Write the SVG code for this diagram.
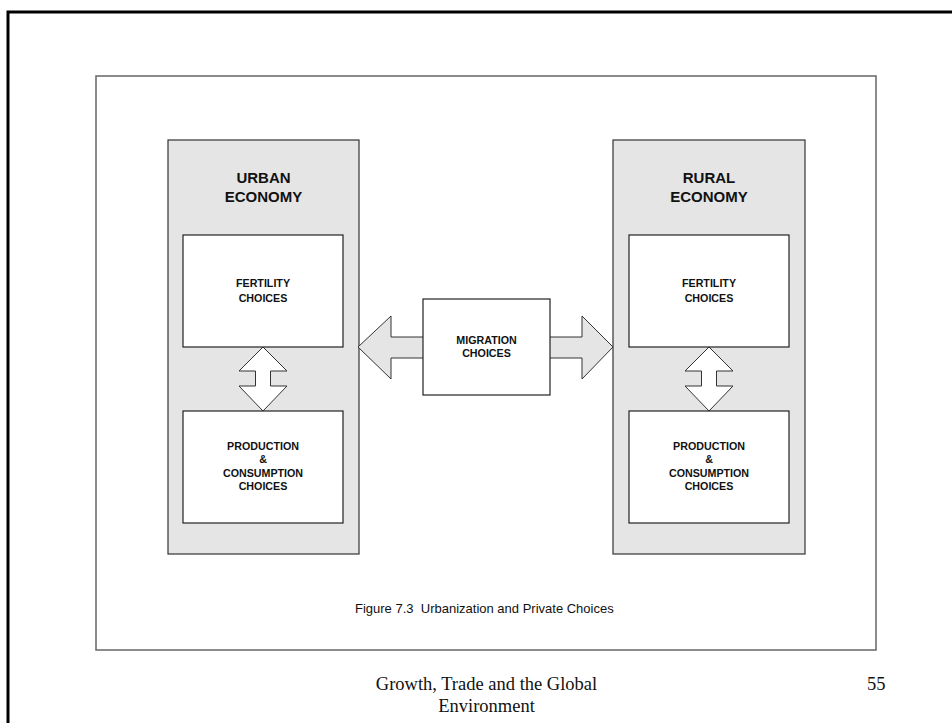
<svg xmlns="http://www.w3.org/2000/svg" width="952" height="723" viewBox="0 0 952 723">
<style>
.econ{fill:#e5e5e5;stroke:#333;stroke-width:1.2}
.box{fill:#fff;stroke:#222;stroke-width:1.2}
.h{font-family:"Liberation Sans",Arial,sans-serif;font-weight:bold;font-size:15px;text-anchor:middle;fill:#111}
.t{font-family:"Liberation Sans",Arial,sans-serif;font-weight:bold;font-size:10.7px;text-anchor:middle;fill:#111}
.cap{font-family:"Liberation Sans",Arial,sans-serif;font-size:13px;fill:#111;white-space:pre}
.ft{font-family:"Liberation Serif","Times New Roman",serif;font-size:18.5px;fill:#111}
.arr{stroke:#333;stroke-width:1}
</style>
<rect x="8" y="12" width="960" height="730" fill="none" stroke="#000" stroke-width="3"/>
<rect x="96" y="76" width="780" height="574" fill="#fff" stroke="#666" stroke-width="1.5"/>
<g id="urban">
<rect class="econ" x="168" y="140" width="191" height="414"/>
<text class="h" x="263.5" y="183">URBAN</text>
<text class="h" x="263.5" y="202">ECONOMY</text>
</g>
<g id="rural">
<rect class="econ" x="613" y="140" width="192" height="414"/>
<text class="h" x="709" y="183">RURAL</text>
<text class="h" x="709" y="202">ECONOMY</text>
</g>
<g id="connectors">
<polygon class="arr" fill="#e5e5e5" points="358,347 391,316 391,337 582,337 582,316 613,347 582,379 582,358 391,358 391,379"/>
<polygon class="arr" fill="#fff" points="263,347 287,371 270.5,371 270.5,386 287,386 263,411 239,386 255.5,386 255.5,371 239,371"/>
<polygon class="arr" fill="#fff" points="709,347 733,371 716.5,371 716.5,386 733,386 709,411 685,386 701.5,386 701.5,371 685,371"/>
</g>
<g id="urban-fertility">
<rect class="box" x="183" y="235" width="160" height="112"/>
<text class="t" x="263" y="287">FERTILITY</text>
<text class="t" x="263" y="302">CHOICES</text>
</g>
<g id="urban-production">
<rect class="box" x="183" y="411" width="160" height="112"/>
<text class="t" x="263" y="450">PRODUCTION</text>
<text class="t" x="263" y="463">&amp;</text>
<text class="t" x="263" y="477">CONSUMPTION</text>
<text class="t" x="263" y="490">CHOICES</text>
</g>
<g id="rural-fertility">
<rect class="box" x="629" y="235" width="160" height="112"/>
<text class="t" x="709" y="287">FERTILITY</text>
<text class="t" x="709" y="302">CHOICES</text>
</g>
<g id="rural-production">
<rect class="box" x="629" y="411" width="160" height="112"/>
<text class="t" x="709" y="450">PRODUCTION</text>
<text class="t" x="709" y="463">&amp;</text>
<text class="t" x="709" y="477">CONSUMPTION</text>
<text class="t" x="709" y="490">CHOICES</text>
</g>
<g id="migration">
<rect class="box" x="423" y="299" width="127" height="96"/>
<text class="t" x="486.5" y="344">MIGRATION</text>
<text class="t" x="486.5" y="357">CHOICES</text>
</g>
<text class="cap" x="355" y="613" xml:space="preserve">Figure 7.3  Urbanization and Private Choices</text>
<text class="ft" x="486.5" y="690" text-anchor="middle">Growth, Trade and the Global</text>
<text class="ft" x="486.5" y="712" text-anchor="middle">Environment</text>
<text class="ft" x="867" y="690">55</text>
</svg>
